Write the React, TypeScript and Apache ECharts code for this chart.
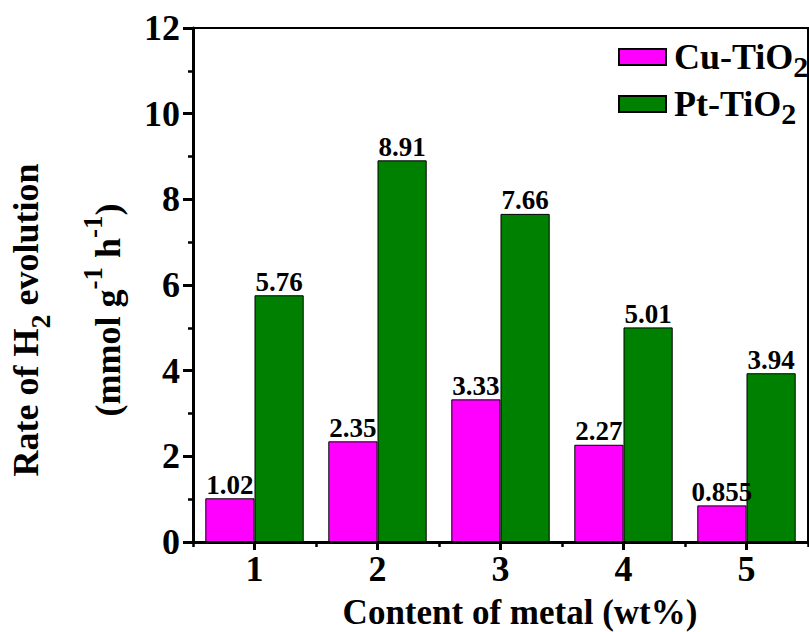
import React, { useEffect, useRef } from "react";
import * as echarts from "echarts";

const categories = ["1", "2", "3", "4", "5"];
const cuValues = [1.02, 2.35, 3.33, 2.27, 0.855];
const ptValues = [5.76, 8.91, 7.66, 5.01, 3.94];
const seriesNames = ["Cu-TiO2", "Pt-TiO2"];
const yTicks = { min: 0, max: 12, interval: 2 };

const FONT = "Liberation Serif";

export default function App() {
  const ref = useRef<HTMLDivElement>(null);
  useEffect(() => {
    if (!ref.current) return;
    const chart = echarts.init(ref.current, undefined, { renderer: "svg" });
    const labelStyle = {
      show: true,
      position: "top" as const,
      distance: 0,
      fontSize: 27,
      fontWeight: "bold" as const,
      fontFamily: FONT,
      color: "#000",
      formatter: (p: any) => String(p.value),
    };
    const option: any = {
      animation: false,
      backgroundColor: "#fff",
      grid: {
        left: 193,
        right: 1,
        top: 28,
        bottom: 90,
        show: true,
        borderColor: "#000",
        borderWidth: 2,
      },
      legend: {
        orient: "vertical",
        left: 613,
        top: 34,
        itemWidth: 47,
        itemHeight: 16,
        itemGap: 5,
        icon: "rect",
        data: seriesNames,
        formatter: (n: string) => `{a|${n.slice(0, -1)}}{s|${n.slice(-1)}}`,
        textStyle: {
          padding: [0, 0, 0, 3],
          rich: {
            a: { fontSize: 36, fontWeight: "bold", fontFamily: FONT, color: "#000", lineHeight: 48 },
            s: { fontSize: 30, fontWeight: "bold", fontFamily: FONT, color: "#000", lineHeight: 30, verticalAlign: "bottom" },
          },
        },
      },
      xAxis: [
        {
          type: "category",
          data: categories,
          position: "bottom",
          axisLine: { lineStyle: { color: "#000", width: 3 } },
          axisTick: { show: true, alignWithLabel: true, length: 8, lineStyle: { color: "#000", width: 3 } },
          axisLabel: { fontSize: 36, fontWeight: "bold", fontFamily: FONT, color: "#000", margin: 9 },
          splitLine: { show: false },
        },
        {
          type: "category",
          data: categories,
          position: "bottom",
          axisLine: { show: false },
          axisTick: { show: true, length: 5, lineStyle: { color: "#000", width: 2.5 } },
          axisLabel: { show: false },
          splitLine: { show: false },
        },
      ],
      yAxis: {
        type: "value",
        min: yTicks.min,
        max: yTicks.max,
        interval: yTicks.interval,
        axisLine: { show: true, lineStyle: { color: "#000", width: 3 } },
        axisTick: { show: true, length: 10, lineStyle: { color: "#000", width: 3 } },
        minorTick: { show: true, splitNumber: 2, length: 5, lineStyle: { color: "#000", width: 2.5 } },
        splitLine: { show: false },
        axisLabel: { fontSize: 36, fontWeight: "bold", fontFamily: FONT, color: "#000", margin: 13 },
      },
      series: [
        {
          name: seriesNames[0],
          type: "bar",
          data: cuValues,
          barWidth: "40%",
          barGap: "0%",
          itemStyle: { color: "#FF00FF", borderColor: "#000", borderWidth: 1 },
          label: labelStyle,
        },
        {
          name: seriesNames[1],
          type: "bar",
          data: ptValues,
          barWidth: "40%",
          barGap: "0%",
          itemStyle: { color: "#008000", borderColor: "#000", borderWidth: 1 },
          label: labelStyle,
        },
      ],
      graphic: [
        {
          type: "text",
          x: 26,
          y: 320,
          rotation: Math.PI / 2,
          style: {
            text: "{a|Rate of H}{s|2}{a| evolution}",
            textAlign: "center",
            textVerticalAlign: "middle",
            rich: {
              a: { fontSize: 36, fontWeight: "bold", fontFamily: FONT, fill: "#000", lineHeight: 56 },
              s: { fontSize: 28, fontWeight: "bold", fontFamily: FONT, fill: "#000", lineHeight: 28, verticalAlign: "bottom" },
            },
          },
        },
        {
          type: "text",
          x: 108,
          y: 310,
          rotation: Math.PI / 2,
          style: {
            text: "{a|(mmol g}{p|-1}{a| h}{p|-1}{a|)}",
            textAlign: "center",
            textVerticalAlign: "middle",
            rich: {
              a: { fontSize: 36, fontWeight: "bold", fontFamily: FONT, fill: "#000", lineHeight: 58 },
              p: { fontSize: 27, fontWeight: "bold", fontFamily: FONT, fill: "#000", lineHeight: 27, verticalAlign: "top" },
            },
          },
        },
        {
          type: "text",
          x: 520,
          y: 612,
          style: {
            text: "Content of metal (wt%)",
            textAlign: "center",
            textVerticalAlign: "middle",
            fontSize: 35,
            fontWeight: "bold",
            fontFamily: FONT,
            fill: "#000",
          },
        },
      ],
    };
    chart.setOption(option);
    return () => chart.dispose();
  }, []);
  return (
    <div
      ref={ref}
      style={{ position: "fixed", left: 0, top: 0, width: 809, height: 632, background: "#fff" }}
    />
  );
}
